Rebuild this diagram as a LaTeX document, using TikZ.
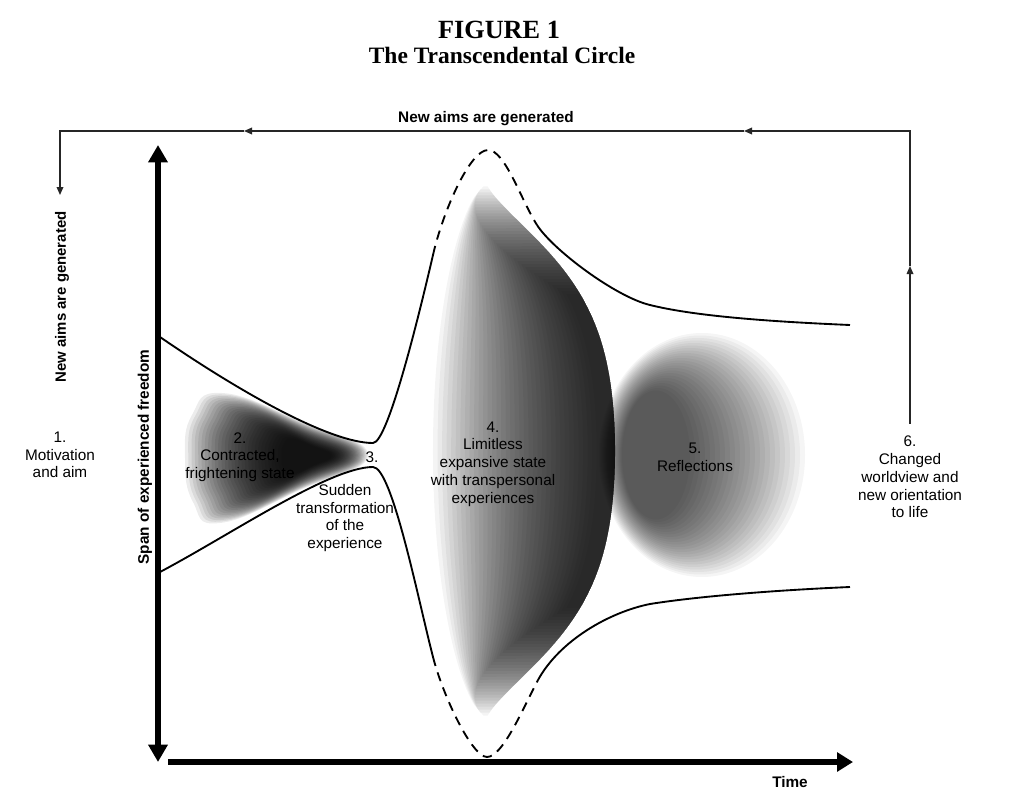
\documentclass[tikz,border=0pt]{standalone}
\usepackage{fontspec}
\setmainfont{Liberation Serif}
\newfontfamily\lsans{Liberation Sans}
\usetikzlibrary{arrows.meta}
\begin{document}
\begin{tikzpicture}[x=0.75pt,y=-0.75pt,
  lab/.style={font=\lsans\fontsize{11.5}{13.3}\selectfont, align=center, inner sep=0pt},
  blab/.style={font=\lsans\bfseries\fontsize{11.5}{13}\selectfont, inner sep=0pt},
  curve/.style={line width=1.4pt, black},
  dashcurve/.style={line width=1.4pt, black, dash pattern=on 7pt off 5pt},
  loopline/.style={line width=0.9pt, black!85},
  looptip/.style={-{Triangle[length=6pt,width=5pt]}},
  axisline/.style={line width=3.8pt, black},
  blob/.style={fill=black}
]
\useasboundingbox[fill=white] (0,0) rectangle (1033,803);

% titles
\node[font=\bfseries\fontsize{19.7}{22}\selectfont, inner sep=0pt, anchor=base] (fig) at (499,38) {FIGURE 1};
\node[font=\bfseries\fontsize{17.6}{20}\selectfont, inner sep=0pt, anchor=base] (title) at (502,63) {The Transcendental Circle};

% label 2 below the shading
\node[lab] (n2) at (240,457) {2.\\Contracted,\\frightening state};

% blob 2
\foreach \s in {1,0.975,...,0.27}{
  \fill[blob, opacity=0.075, scale around={\s:(318,456)}]
    plot[smooth cycle, tension=0.8] coordinates {(368,455) (300,421) (222,393) (192,415) (185,458) (193,502) (220,523) (300,490)};
}

% blob 4
\foreach \t in {0,0.025,...,0.91}{
  \pgfmathsetmacro\um{0.995-0.45*\t}
  \fill[blob, opacity=0.043]
    plot[variable=\u, domain=-\um:\um, samples=50, smooth] ({487+128*(1.0001-(\u)*(\u))^(0.5+0.7*(\u)*(\u))},{451+266*\u})
    -- plot[variable=\u, domain=\um:-\um, samples=50, smooth] ({487-54*(1.0001-(\u)*(\u))^0.6+\t*(128*(1.0001-(\u)*(\u))^(0.5+0.7*(\u)*(\u))+54*(1.0001-(\u)*(\u))^0.6)},{451+266*\u})
    -- cycle;
}

% blob 5
\foreach \k in {0,...,23}{
  \pgfmathsetmacro\cx{702-2*\k}
  \pgfmathsetmacro\rx{103-3*\k}
  \pgfmathsetmacro\ry{122-2.5*\k}
  \fill[blob, opacity=0.04] (\cx,455) ellipse [x radius=\rx, y radius=\ry];
}

% upper boundary
\draw[curve] (160,337) .. controls (240,392) and (330,443) .. (373,443)
  .. controls (388,443) and (419.5,313) .. (433,255);
\draw[dashcurve] (433,255) .. controls (443,211) and (470,150) .. (488,150)
  .. controls (505,150) and (521,200) .. (537,225);
\draw[curve] (537,225) .. controls (553,250) and (616,297) .. (650,305)
  .. controls (698,317) and (780,322) .. (850,325);
% lower boundary
\draw[curve] (160,572) .. controls (230,535) and (330,467) .. (373,467)
  .. controls (392,467) and (418,599) .. (433,657);
\draw[dashcurve] (433,657) .. controls (443,696) and (472,757) .. (487,757)
  .. controls (503,757) and (524,706) .. (538,680);
\draw[curve] (538,680) .. controls (560,640) and (610,612) .. (650,604)
  .. controls (700,596) and (780,590) .. (850,587);

% labels
\node[lab] (n1) at (60,455) {1.\\Motivation\\and aim};
\node[lab] (n3) at (372,457) {3.};
\node[lab] (n3b) at (345,518) {Sudden\\transformation\\of the\\experience};
\node[lab] (n4) at (493,464) {4.\\Limitless\\expansive state\\with transpersonal\\experiences};
\node[lab] (n5) at (695,457) {5.\\Reflections};
\node[lab] (n6) at (910,477) {6.\\Changed\\worldview and\\new orientation\\to life};

% axes
\coordinate (ytop) at (158,145);
\coordinate (ybot) at (158,762);
\coordinate (xleft) at (168,762);
\coordinate (xright) at (853,762);
\draw[axisline, {Triangle[length=13pt,width=14pt]}-{Triangle[length=13pt,width=14pt]}] (ybot) -- (ytop);
\draw[axisline, -{Triangle[length=12pt,width=14pt]}] (xleft) -- (xright);
\node[blab] (time) at (790,782) {Time};
\node[blab, rotate=90] (span) at (145,457) {Span of experienced freedom};

% feedback loop
\node[blab, anchor=base] (toplab) at (486,122) {New aims are generated};
\node[blab, rotate=90, font=\lsans\bfseries\fontsize{11.2}{13}\selectfont] (leftlab) at (62,297) {New aims are generated};
\coordinate (tr) at (910,131);
\coordinate (tl) at (60,131);
\coordinate (a1) at (910,266);
\coordinate (a2) at (744,131);
\coordinate (a3) at (244,131);
\coordinate (lend) at (60,195);
\draw[loopline, looptip] (n6.north) ++(0,-12) -- (a1);
\draw[loopline, looptip] (a1) -- (tr) -- (a2);
\draw[loopline, looptip] (a2) -- (a3);
\draw[loopline, looptip] (a3) -- (tl) -- (lend);
\end{tikzpicture}
\end{document}
